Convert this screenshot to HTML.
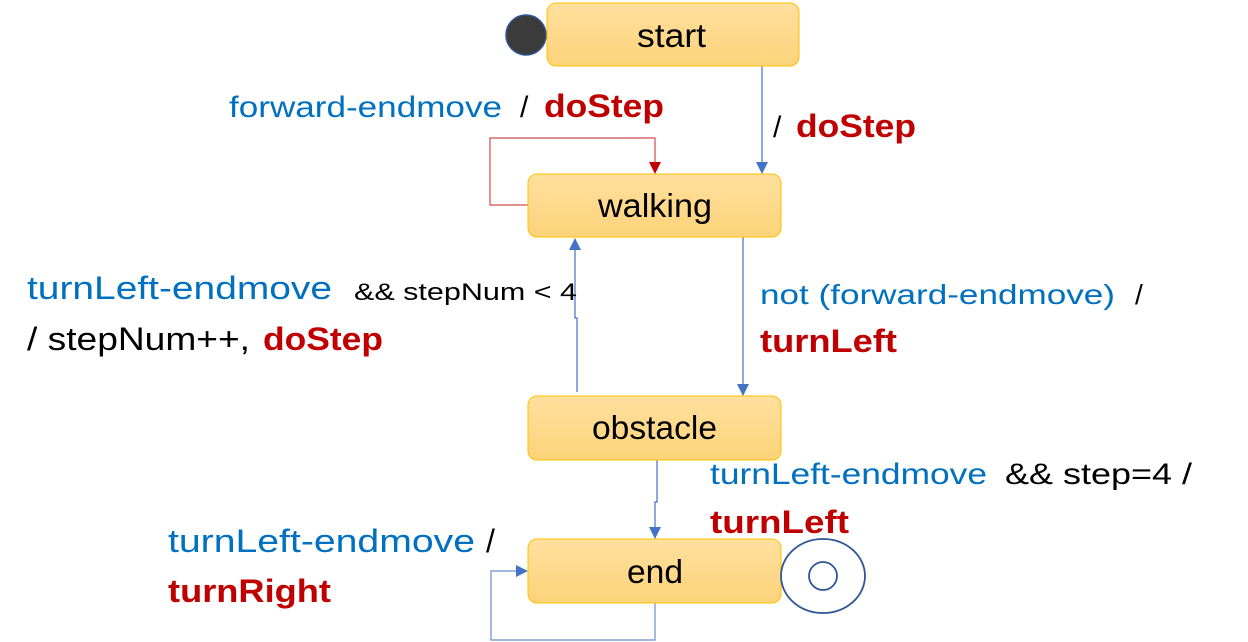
<!DOCTYPE html>
<html><head><meta charset="utf-8"><style>
html,body{margin:0;padding:0;background:#fff;}
svg{display:block;font-family:"Liberation Sans",sans-serif;}
.b{fill:#0070c0;}
.k{fill:#000;}
.r{fill:#c00000;font-weight:bold;}
</style></head><body>
<svg width="1248" height="642" viewBox="0 0 1248 642">
<defs>
<linearGradient id="g" x1="0" y1="0" x2="0" y2="1">
<stop offset="0" stop-color="#ffe09e"/><stop offset="1" stop-color="#fdd37a"/>
</linearGradient>
<marker id="ab" markerWidth="12" markerHeight="12" refX="11" refY="6" orient="auto" markerUnits="userSpaceOnUse"><path d="M0,0 L12,6 L0,12z" fill="#4472c4"/></marker>
<marker id="ar" markerWidth="12" markerHeight="12" refX="11" refY="6" orient="auto" markerUnits="userSpaceOnUse"><path d="M0,0 L12,6 L0,12z" fill="#c00000"/></marker>
</defs>
<path d="M762,66 V173" stroke="#4472c4" stroke-width="1.2" fill="none" marker-end="url(#ab)"/>
<path d="M528,205 H490 V138 H655 V173" stroke="#c00000" stroke-opacity="0.7" stroke-width="1.2" fill="none" marker-end="url(#ar)"/>
<path d="M743,237 V395" stroke="#4472c4" stroke-width="1.2" fill="none" marker-end="url(#ab)"/>
<path d="M577,392 V318 H575 V239" stroke="#4472c4" stroke-width="1.2" fill="none" marker-end="url(#ab)"/>
<path d="M657,460 V502 H655 V538" stroke="#4472c4" stroke-width="1.2" fill="none" marker-end="url(#ab)"/>
<path d="M655,603 V640 H491 V571 H527" stroke="#4472c4" stroke-opacity="0.8" stroke-width="1.2" fill="none" marker-end="url(#ab)"/>
<circle cx="526" cy="35" r="20" fill="#3b3b3b" stroke="#2f5597" stroke-width="1.5"/>
<rect x="547" y="3" width="252" height="63" rx="9" fill="url(#g)" stroke="#ffc000" stroke-width="1"/>
<rect x="528" y="174" width="253" height="63" rx="9" fill="url(#g)" stroke="#ffc000" stroke-width="1"/>
<rect x="528" y="396" width="253" height="64" rx="9" fill="url(#g)" stroke="#ffc000" stroke-width="1"/>
<rect x="528" y="539" width="253" height="64" rx="9" fill="url(#g)" stroke="#ffc000" stroke-width="1"/>
<ellipse cx="823" cy="576" rx="42" ry="37" fill="#fff" stroke="#2f5597" stroke-width="1.8"/>
<circle cx="823" cy="576" r="14" fill="#fff" stroke="#2f5597" stroke-width="1.8"/>
<g font-size="33" class="k">
<text x="637" y="47" textLength="69" lengthAdjust="spacingAndGlyphs">start</text>
<text x="598" y="217" textLength="114" lengthAdjust="spacingAndGlyphs">walking</text>
<text x="592" y="439" textLength="125" lengthAdjust="spacingAndGlyphs">obstacle</text>
<text x="627" y="583" textLength="56" lengthAdjust="spacingAndGlyphs">end</text>
</g>
<text x="229" y="117" font-size="30" class="b" textLength="273" lengthAdjust="spacingAndGlyphs">forward-endmove</text>
<text x="520" y="117" font-size="30" class="k">/</text>
<text x="544" y="117" font-size="32" class="r" textLength="120" lengthAdjust="spacingAndGlyphs">doStep</text>
<text x="773" y="137" font-size="30" class="k">/</text>
<text x="796" y="137" font-size="32" class="r" textLength="120" lengthAdjust="spacingAndGlyphs">doStep</text>
<text x="27" y="299" font-size="32" class="b" textLength="305" lengthAdjust="spacingAndGlyphs">turnLeft-endmove</text>
<text x="354" y="300" font-size="24" class="k" textLength="223" lengthAdjust="spacingAndGlyphs">&amp;&amp; stepNum &lt; 4</text>
<text x="27" y="350" font-size="32" class="k" textLength="223" lengthAdjust="spacingAndGlyphs">/ stepNum++,</text>
<text x="263" y="350" font-size="32" class="r" textLength="120" lengthAdjust="spacingAndGlyphs">doStep</text>
<text x="760" y="304" font-size="28" class="b" textLength="355" lengthAdjust="spacingAndGlyphs">not (forward-endmove)</text>
<text x="1135" y="304" font-size="28" class="k">/</text>
<text x="760" y="352" font-size="32" class="r" textLength="137" lengthAdjust="spacingAndGlyphs">turnLeft</text>
<text x="710" y="484" font-size="30" class="b" textLength="277" lengthAdjust="spacingAndGlyphs">turnLeft-endmove</text>
<text x="1005" y="484" font-size="30" class="k" textLength="187" lengthAdjust="spacingAndGlyphs">&amp;&amp; step=4 /</text>
<text x="710" y="533" font-size="32" class="r" textLength="139" lengthAdjust="spacingAndGlyphs">turnLeft</text>
<text x="168" y="552" font-size="32" class="b" textLength="307" lengthAdjust="spacingAndGlyphs">turnLeft-endmove</text>
<text x="486" y="552" font-size="32" class="k">/</text>
<text x="168" y="602" font-size="32" class="r" textLength="163" lengthAdjust="spacingAndGlyphs">turnRight</text>
</svg>
</body></html>
